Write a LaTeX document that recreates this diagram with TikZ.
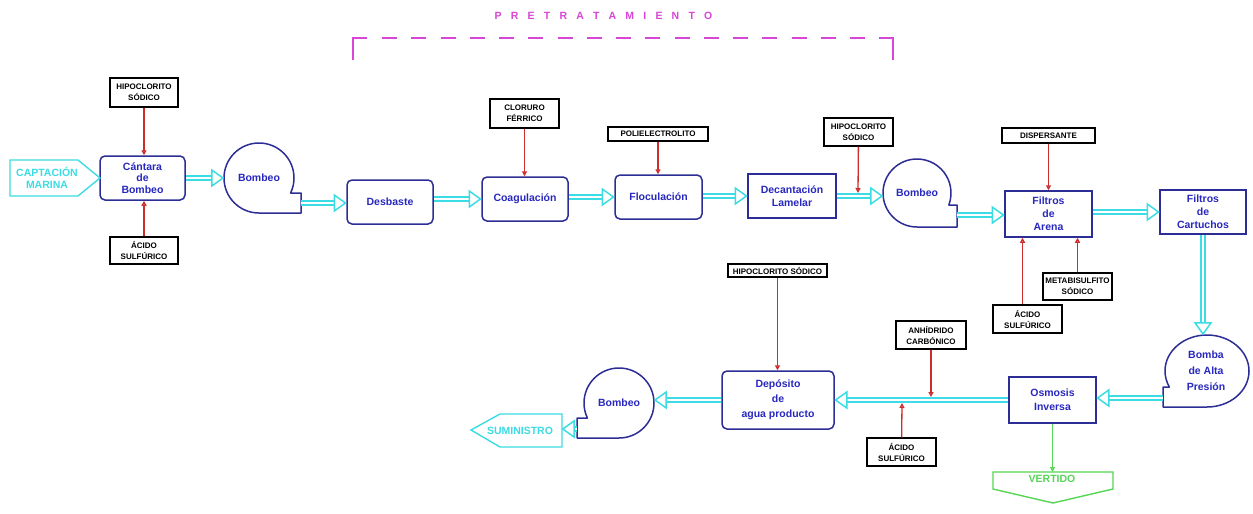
\documentclass[tikz,border=0pt]{standalone}
\usepackage{fontspec}
\setmainfont{Liberation Sans}
\usetikzlibrary{arrows.meta,decorations.markings,shapes.geometric}
\definecolor{boxblue}{RGB}{45,45,150}
\definecolor{txtblue}{RGB}{40,40,190}
\definecolor{flowcyan}{RGB}{60,220,228}
\definecolor{chemred}{RGB}{205,45,45}
\definecolor{vgreen}{RGB}{85,215,85}
\definecolor{pmag}{RGB}{215,70,215}
\newcommand\lsgap{\hspace{9.2pt}}
\tikzset{
  proc/.style={draw=boxblue, line width=1.5pt, text=txtblue, align=center, inner sep=1pt,
    font=\fontsize{10.5}{13}\selectfont\bfseries},
  procr/.style={proc, rounded corners=5pt},
  pumptxt/.style={circle, inner sep=0pt, text=txtblue, align=center,
    font=\fontsize{10.5}{13}\selectfont\bfseries},
  pumpline/.style={draw=boxblue, line width=1.5pt, line join=round},
  chem/.style={draw=black, line width=1.3pt, align=center, inner sep=0.5pt,
    font=\fontsize{8}{11}\selectfont\bfseries},
  feed/.style={draw=chemred, line width=1.3pt, -{Triangle[open, length=5pt, width=5pt]}},
  drain/.style={draw=vgreen, line width=1.3pt, -{Triangle[open, length=5pt, width=5pt]}},
  flow/.style={draw=flowcyan, line width=1.8pt, double=white, double distance=2.2pt, shorten >=6pt,
    postaction={decorate, decoration={markings, mark=at position 1 with
      {\draw[flowcyan, line width=1.5pt, fill=white, line join=miter, shorten >=0pt]
        (-0.8pt,0pt) -- (-12pt,8pt) -- (-12pt,-8pt) -- cycle;}}}},
  term/.style={line width=1.4pt, line join=miter},
  termtxt/.style={align=center, inner sep=0pt, font=\fontsize{10.5}{12}\selectfont\bfseries},
}
\begin{document}
\begin{tikzpicture}[x=1pt, y=-1pt]
\useasboundingbox (0,0) rectangle (1253,514);
\fill[white] (0,0) rectangle (1253,514);

% title and bracket
\node[text=pmag, inner sep=0pt, font=\fontsize{10.5}{12}\selectfont\bfseries] (title) at (603.5,16)
  {P\lsgap R\lsgap E\lsgap T\lsgap R\lsgap A\lsgap T\lsgap A\lsgap M\lsgap I\lsgap E\lsgap N\lsgap T\lsgap O};
\draw[pmag, line width=1.6pt] (353,60) -- (353,38) -- (367,38);
\draw[pmag, line width=1.6pt] (879,38) -- (893,38) -- (893,60);
\draw[pmag, line width=1.6pt, dash pattern=on 15pt off 14.25pt] (382,38) -- (865,38);

% process boxes
\node[procr, minimum width=85pt, minimum height=44pt, font=\fontsize{10.5}{11.5}\selectfont\bfseries] (cant) at (142.5,178) {Cántara\\de\\Bombeo};
\node[procr, minimum width=86pt, minimum height=44pt] (desb) at (390,202) {Desbaste};
\node[procr, minimum width=86pt, minimum height=44pt] (coag) at (525,199) {Coagulación};
\node[procr, minimum width=87pt, minimum height=44pt] (floc) at (658.5,197) {Floculación};
\node[proc, minimum width=88pt, minimum height=44pt] (deca) at (792,196) {Decantación\\Lamelar};
\node[proc, minimum width=87pt, minimum height=46pt] (fare) at (1048.5,214) {Filtros\\de\\Arena};
\node[proc, minimum width=86pt, minimum height=44pt] (fcar) at (1203,212) {Filtros\\de\\Cartuchos};
\node[proc, minimum width=87pt, minimum height=46pt, font=\fontsize{10.5}{14}\selectfont\bfseries] (osmo) at (1052.5,400) {Osmosis\\Inversa};
\node[procr, minimum width=112pt, minimum height=58pt, font=\fontsize{10.5}{15}\selectfont\bfseries] (depo) at (778,400) {Depósito\\de\\agua producto};

% pumps
\draw[pumpline] (259,213) arc[start angle=270, end angle=-25.4, radius=35pt] -- (301,193) -- (301,213) -- cycle;
\node[pumptxt, minimum size=70pt] (p1) at (259,178) {Bombeo};
\coordinate (p1o) at (301,203);

\draw[pumpline] (917,227) arc[start angle=270, end angle=-20.7, radius=34pt] -- (957,205) -- (957,227) -- cycle;
\node[pumptxt, minimum size=68pt] (p2) at (917,193) {Bombeo};
\coordinate (p2o) at (957,215);

\draw[pumpline] (619,438) arc[start angle=-90, end angle=205.4, radius=35pt] -- (577,418) -- (577,438) -- cycle;
\node[pumptxt, minimum size=70pt] (p3) at (619,403) {Bombeo};
\coordinate (p3o) at (577,429);

\draw[pumpline] (1207,407) arc[start angle=-90, end angle=206.4, x radius=42pt, y radius=36pt] -- (1163,387) -- (1163,407) -- cycle;
\node[ellipse, inner sep=0pt, minimum width=84pt, minimum height=72pt, text=txtblue, align=center,
  font=\fontsize{10.5}{16}\selectfont\bfseries] (p4) at (1206,371) {Bomba\\de Alta\\Presión};
\coordinate (p4o) at (1163,398);

% terminals
\draw[term, draw=flowcyan] (10,160) -- (78,160) -- (100,178) -- (78,196) -- (10,196) -- cycle;
\node[termtxt, text=flowcyan] (capt) at (47,178) {CAPTACIÓN\\MARINA};
\draw[term, draw=flowcyan] (471,430) -- (500,414) -- (562,414) -- (562,447) -- (500,447) -- cycle;
\node[termtxt, text=flowcyan] (sumi) at (520,431) {SUMINISTRO};
\coordinate (sumE) at (562,429);
\draw[term, draw=vgreen] (993,472) -- (1113,472) -- (1113,489) -- (1053,503) -- (993,489) -- cycle;
\node[termtxt, text=vgreen] (vert) at (1052,479) {VERTIDO};
\coordinate (vtop) at (1052.5,472);

% chemical boxes
\node[chem, minimum width=68pt, minimum height=29pt] (hipo1) at (144,92.5) {HIPOCLORITO\\SÓDICO};
\node[chem, minimum width=68pt, minimum height=27pt] (acid1) at (144,250.5) {ÁCIDO\\SULFÚRICO};
\node[chem, minimum width=69pt, minimum height=29pt] (clor) at (524.5,113.5) {CLORURO\\FÉRRICO};
\node[chem, minimum width=100pt, minimum height=14pt] (poli) at (658,134) {POLIELECTROLITO};
\node[chem, minimum width=69pt, minimum height=28pt] (hipo2) at (858.5,132) {HIPOCLORITO\\SÓDICO};
\node[chem, minimum width=93pt, minimum height=15pt] (disp) at (1048.5,135.5) {DISPERSANTE};
\node[chem, minimum width=69pt, minimum height=27pt] (meta) at (1077.5,286.5) {METABISULFITO\\SÓDICO};
\node[chem, minimum width=69pt, minimum height=28pt] (acid2) at (1027.5,319) {ÁCIDO\\SULFÚRICO};
\node[chem, minimum width=99pt, minimum height=13pt] (hipo3) at (777.5,270.5) {HIPOCLORITO SÓDICO};
\node[chem, minimum width=70pt, minimum height=28pt] (anhi) at (931,335) {ANHÍDRIDO\\CARBÓNICO};
\node[chem, minimum width=69pt, minimum height=28pt] (acid3) at (901.5,452) {ÁCIDO\\SULFÚRICO};

\coordinate (j1) at (858,193);
\coordinate (j2) at (931,397);
\coordinate (j3) at (902,403);

% main flow
\draw[flow] (cant.east) -- (cant.east -| p1.west);
\draw[flow] (p1o) -- (p1o -| desb.west);
\draw[flow] (coag.west -| desb.east) -- (coag.west);
\draw[flow] (floc.west -| coag.east) -- (floc.west);
\draw[flow] (deca.west -| floc.east) -- (deca.west);
\draw[flow] (deca.east) -- (deca.east -| p2.west);
\draw[flow] (p2o) -- (p2o -| fare.west);
\draw[flow] (fcar.west -| fare.east) -- (fcar.west);
\draw[flow] (fcar.south) -- (fcar.south |- p4.north);
\draw[flow] (p4o) -- (p4o -| osmo.east);
\draw[flow] (osmo.west) -- (osmo.west -| depo.east);
\draw[flow] (depo.west) -- (depo.west -| p3.east);
\draw[flow] (p3o) -- (sumE);

% chemical feeds
\draw[feed] (hipo1) -- (hipo1 |- cant.north);
\draw[feed] (acid1) -- (acid1 |- cant.south);
\draw[feed] (clor) -- (clor |- coag.north);
\draw[feed] (poli) -- (poli |- floc.north);
\draw[feed] (hipo2) -- (j1);
\draw[feed] (disp) -- (disp |- fare.north);
\draw[feed] ([xshift=-5pt]acid2.north) -- ([xshift=-5pt]acid2.north |- fare.south);
\draw[feed] (meta) -- (meta |- fare.south);
\draw[feed] (hipo3) -- (hipo3 |- depo.north);
\draw[feed] (anhi) -- (j2);
\draw[feed] (acid3) -- (j3);

% reject
\draw[drain] (osmo.south) -- (vtop);
\end{tikzpicture}
\end{document}
